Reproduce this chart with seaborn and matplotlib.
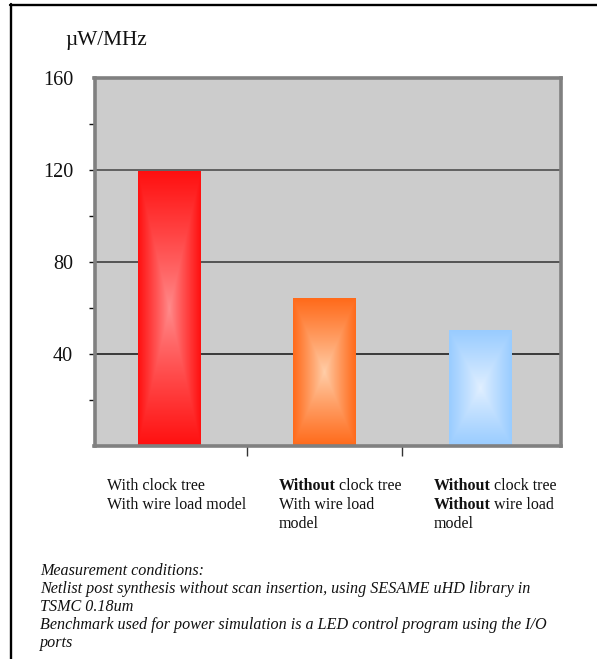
import numpy as np
import pandas as pd
import matplotlib
matplotlib.use("Agg")
import matplotlib.pyplot as plt
from matplotlib.lines import Line2D
from matplotlib.colors import to_rgb
import seaborn as sns

# Power consumption per configuration
categories = ["clk_wlm", "noclk_wlm", "noclk_nowlm"]
power_uw_per_mhz = [119.5, 64.3, 50.0]

# Category label lines: (bold prefix, regular remainder)
label_lines = [
    [("", "With clock tree"), ("", "With wire load model")],
    [("Without", "clock tree"), ("", "With wire load"), ("", "model")],
    [("Without", "clock tree"), ("Without", "wire load"), ("", "model")],
]

edge_colors = ["#ff1010", "#ff6a1a", "#99ccff"]
center_colors = ["#ff8c8c", "#ffcfaa", "#e2f0ff"]

y_ticks = [40, 80, 120, 160]
y_minor = [20, 60, 100, 140]

notes = [
    "Measurement conditions:",
    "Netlist post synthesis without scan insertion, using SESAME uHD library in",
    "TSMC 0.18um",
    "Benchmark used for power simulation is a LED control program using the I/O",
    "ports",
]

sns.set_theme(style="white")
plt.rcParams["font.family"] = ["Liberation Serif", "DejaVu Serif"]

W, H = 597, 659
fig = plt.figure(figsize=(W / 100, H / 100), dpi=100)
fig.patch.set_facecolor("white")


def fx(px):
    return px / W


def fy(py):
    return 1 - py / H


ax = fig.add_axes([fx(94.5), fy(446), fx(560.5) - fx(94.5), fy(78) - fy(446)])
ax.set_facecolor("#cccccc")

df = pd.DataFrame({"cat": categories, "val": power_uw_per_mhz})
sns.barplot(data=df, x="cat", y="val", hue="cat", palette=edge_colors,
            legend=False, width=0.405, saturation=1, linewidth=0,
            ax=ax, zorder=3)

# Pillow-style gradient filling each bar
n = 200
u = np.linspace(-1, 1, n)
U, V = np.meshgrid(u, u)
T = np.maximum(np.abs(U), np.abs(V))[..., None] ** 0.9
for patch, ec, cc in zip(ax.patches, edge_colors, center_colors):
    x0, y0 = patch.get_x(), patch.get_y()
    w, h = patch.get_width(), patch.get_height()
    img = np.array(to_rgb(cc)) * (1 - T) + np.array(to_rgb(ec)) * T
    ax.imshow(img, extent=[x0, x0 + w, y0, y0 + h], aspect="auto",
              zorder=4, interpolation="bilinear")

ax.set_xlim(-0.483, 2.518)
ax.set_ylim(0, 160)

# Horizontal gridlines
for yv, gc in zip([40, 80, 120], ["#111111", "#333333", "#444444"]):
    ax.axhline(yv, color=gc, lw=1.1, zorder=1)

for s in ax.spines.values():
    s.set_color("#808080")
    s.set_linewidth(2.6)
    s.set_visible(True)
    s.set_zorder(5)

ax.set_yticks(y_ticks)
ax.set_yticklabels([str(v) for v in y_ticks], fontsize=14.5, color="#111111")
ax.set_yticks(y_minor, minor=True)
ax.tick_params(axis="y", which="both", direction="out", length=4.5, width=1,
               color="#111111", left=True, pad=11)
ax.yaxis.get_major_ticks()[-1].tick1line.set_visible(False)

ax.set_xticks([0.5, 1.5])
ax.set_xticklabels(["", ""])
ax.tick_params(axis="x", which="both", direction="out", length=7, width=1,
               color="#333333", bottom=True)
ax.set_xlabel("")
ax.set_ylabel("")

# Unit label
fig.text(fx(65), fy(45), "\u00b5W/MHz", fontsize=15.3, ha="left", va="baseline",
         color="#111111")

# Category labels with bold prefixes
label_x = [107, 279, 434]
baselines = [490, 509, 528]
fig.canvas.draw()
for lx, lines in zip(label_x, label_lines):
    for (bold, rest), by in zip(lines, baselines):
        if bold:
            t = fig.text(fx(lx), fy(by), bold, fontsize=11.5, fontweight="bold",
                         ha="left", va="baseline", color="#111111")
            bb = t.get_window_extent(renderer=fig.canvas.get_renderer())
            fig.text((bb.x1 + 3.5) / W, fy(by), rest, fontsize=11.5, ha="left",
                     va="baseline", color="#111111")
        else:
            fig.text(fx(lx), fy(by), rest, fontsize=11.5, ha="left",
                     va="baseline", color="#111111")

# Footnote
for i, line in enumerate(notes):
    fig.text(fx(40), fy(575 + 18 * i), line, fontsize=11.6, style="italic",
             ha="left", va="baseline", color="#111111")

# Outer frame (top and left)
fig.add_artist(Line2D([fx(10), 1], [fy(4.5), fy(4.5)], color="black", lw=1.7,
                      transform=fig.transFigure))
fig.add_artist(Line2D([fx(11.3), fx(11.3)], [fy(3.5), 0], color="black", lw=1.7,
                      transform=fig.transFigure))

fig.savefig("out.png", dpi=100)
